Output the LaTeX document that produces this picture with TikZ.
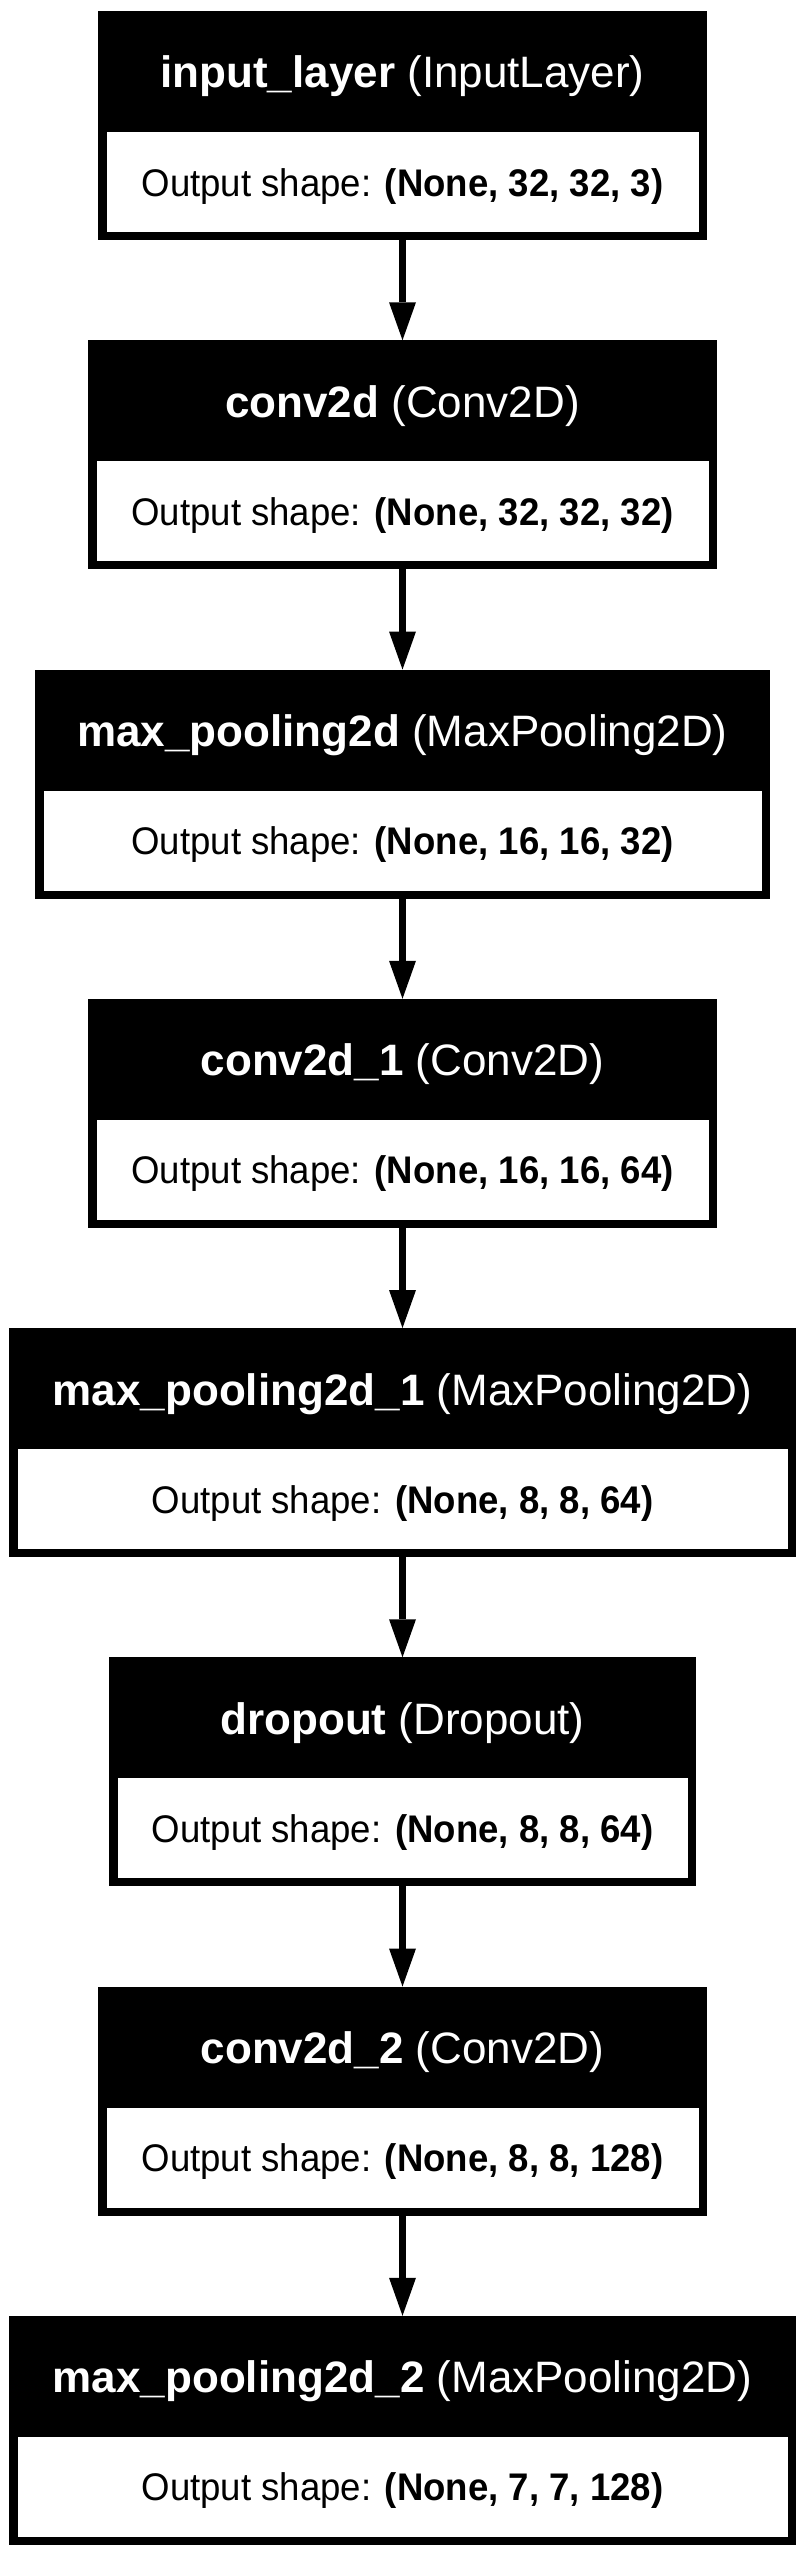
\documentclass[tikz,border=0pt]{standalone}
\usepackage{fontspec}
\setmainfont{Liberation Sans}
\newfontfamily\shapefont[FakeStretch=0.95]{Liberation Sans}
\usetikzlibrary{arrows.meta}
\newcommand{\kerasLayer}[6]{%
  \node[layerbox, minimum width=#3pt, anchor=north] (#1) at (402.5,-#2) {};
  \node[shapecell, minimum width=#3pt-17pt, anchor=north] (#1s) at (402.5,-#2-121) {};
  \node[headtext] (#1h) at (402.5,-#2-77) {\textbf{#4} #5};
  \node[shapetext] (#1o) at (402.5,-#2-185) {Output shape: \textbf{#6}};
}
\begin{document}
\begin{tikzpicture}[x=1pt,y=1pt,
  layerbox/.style={fill=black, draw=none, minimum height=229pt, inner sep=0pt, outer sep=0pt},
  shapecell/.style={fill=white, draw=none, minimum height=100pt, inner sep=0pt, outer sep=0pt},
  headtext/.style={text=white, font=\fontsize{44}{50}\selectfont, anchor=base, inner sep=0pt},
  shapetext/.style={text=black, font=\shapefont\fontsize{38.5}{44}\selectfont, anchor=base, inner sep=0pt},
  flow/.style={line width=6.5pt, -{Triangle[length=38pt,width=27pt,line width=0pt]}}
]
\useasboundingbox[fill=white] (0,0) rectangle (805,-2556);
\kerasLayer{b1}{11}{609}{input\_layer}{(InputLayer)}{(None, 32, 32, 3)}
\kerasLayer{b2}{340.25}{629}{conv2d}{(Conv2D)}{(None, 32, 32, 32)}
\kerasLayer{b3}{669.5}{735}{max\_pooling2d}{(MaxPooling2D)}{(None, 16, 16, 32)}
\kerasLayer{b4}{998.75}{629}{conv2d\_1}{(Conv2D)}{(None, 16, 16, 64)}
\kerasLayer{b5}{1328}{787}{max\_pooling2d\_1}{(MaxPooling2D)}{(None, 8, 8, 64)}
\kerasLayer{b6}{1657.25}{587}{dropout}{(Dropout)}{(None, 8, 8, 64)}
\kerasLayer{b7}{1986.5}{609}{conv2d\_2}{(Conv2D)}{(None, 8, 8, 128)}
\kerasLayer{b8}{2315.75}{787}{max\_pooling2d\_2}{(MaxPooling2D)}{(None, 7, 7, 128)}
\draw[flow] (b1.south) -- (b2.north);
\draw[flow] (b2.south) -- (b3.north);
\draw[flow] (b3.south) -- (b4.north);
\draw[flow] (b4.south) -- (b5.north);
\draw[flow] (b5.south) -- (b6.north);
\draw[flow] (b6.south) -- (b7.north);
\draw[flow] (b7.south) -- (b8.north);
\end{tikzpicture}
\end{document}
